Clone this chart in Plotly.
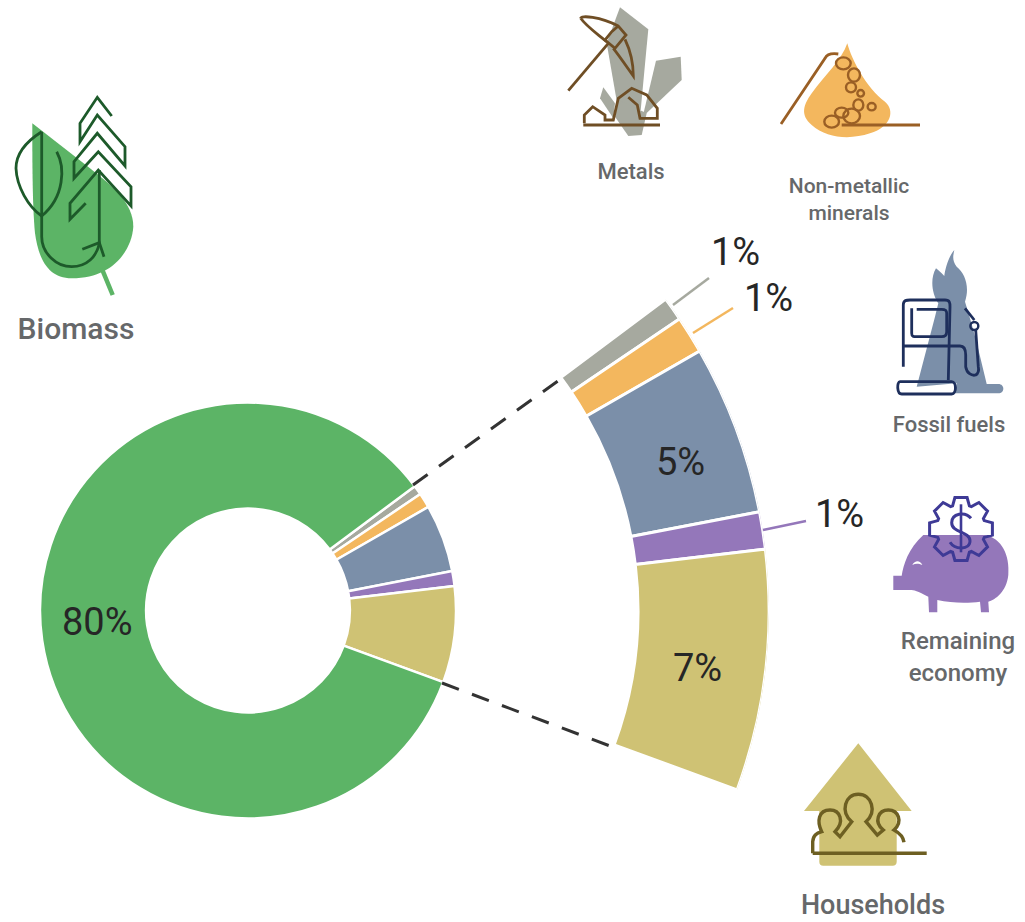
import math
import re
import plotly.graph_objects as go

# ---------- data ----------
categories = ["Metals", "Non-metallic minerals", "Fossil fuels", "Remaining economy", "Households", "Biomass"]
shares = [0.7, 1.1, 5, 1.1, 7.1, 80]
colors = ["#a6a99f", "#f3b75e", "#7b8fa9", "#9477ba", "#cfc274", "#5cb466"]
detail_categories = categories[:5]
detail_shares = shares[:5]
detail_colors = colors[:5]
percent_text = ["80%", "5%", "7%", "1%", "1%", "1%"]
name_text = ["Biomass", "Metals", "Non-metallic<br>minerals", "Fossil fuels", "Remaining<br>economy", "Households"]

# ---------- page geometry (pixels) ----------
W, H = 1025, 922
CX, CY, PIE_R = 248, 610.5, 208
FAN_IN, FAN_OUT = 390, 521
START_ANGLE = 36.7

shapes = []


def zpath(d, ox, oy):
    """Rescale an icon path noted in 3x crop coordinates to page pixels."""
    out, isx = [], True
    for tok in re.findall(r"[A-Za-z]|-?\d+\.?\d*", d):
        if tok.isalpha():
            out.append(tok)
            isx = True
        else:
            v = float(tok) / 3 + (ox if isx else oy)
            out.append(f"{v:.1f}")
            isx = not isx
    return " ".join(out)


def fill(d, ox, oy, color):
    shapes.append(dict(type="path", path=zpath(d, ox, oy), xref="x", yref="y",
                       fillcolor=color, line=dict(width=0)))


def stroke(d, ox, oy, color, width=2.8):
    shapes.append(dict(type="path", path=zpath(d, ox, oy), xref="x", yref="y",
                       line=dict(color=color, width=width)))


def ring(cx, cy, rx, ry, ox, oy, color, width=2.4):
    shapes.append(dict(type="circle", xref="x", yref="y",
                       x0=(cx - rx) / 3 + ox, x1=(cx + rx) / 3 + ox,
                       y0=(cy - ry) / 3 + oy, y1=(cy + ry) / 3 + oy,
                       line=dict(color=color, width=width)))


def seg(x0, y0, x1, y1, color, width=2.5, dash="solid"):
    shapes.append(dict(type="line", xref="x", yref="y", x0=x0, y0=y0, x1=x1, y1=y1,
                       line=dict(color=color, width=width, dash=dash)))


# biomass icon
o = (0, 90)
G, GD = "#5cb466", "#1d5a2a"
fill("M97 100 L270 235 C340 290 400 340 400 410 C395 480 340 565 215 565 C140 565 115 500 105 430 C97 350 97 200 97 100 Z", *o, G)
stroke("M305 535 L338 615", *o, G, 4.5)
stroke("M125 125 C70 160 48 200 48 235 C50 290 85 350 125 378", *o, GD)
stroke("M125 125 L125 440 C125 490 170 530 215 530 C260 530 290 500 298 460", *o, GD)
stroke("M170 185 C195 230 195 320 125 378", *o, GD)
stroke("M247 478 L298 458 L312 500", *o, GD)
stroke("M298 240 L298 460", *o, GD)
stroke("M335 78 L292 22 L240 100 L240 155 L292 75 L375 170 L375 228 L292 130 L222 215 L222 265 L295 185 L393 290 L393 348 L295 240 L210 340 L210 388 L257 340", *o, GD)

# metals icon
o = (550, 0)
M, MD = "#a6a99f", "#6f4e25"
fill("M210 22 L295 88 L272 330 L205 330 L170 130 Z", *o, M)
fill("M318 182 L392 170 L395 240 L278 350 Z", *o, M)
fill("M160 262 L195 310 L190 355 L150 295 Z", *o, M)
fill("M205 300 L290 340 L275 405 L235 408 L195 350 Z", *o, M)
stroke("M55 272 L175 130", *o, MD)
stroke("M92 55 C92 45 150 50 205 78 L228 105 L195 145 L165 120 L185 95 L205 78", *o, MD)
stroke("M92 55 C110 80 140 100 170 125", *o, MD)
stroke("M225 118 C245 160 250 200 250 228 C230 200 210 170 190 145", *o, MD)
stroke("M100 375 L330 375", *o, MD)
stroke("M103 370 L103 345 L128 320 L165 345 L165 360 L190 360 L205 295 L245 265 L290 285 L322 325 L322 355 L270 355 L262 315 L235 292", *o, MD)

# non-metallic minerals icon
o = (770, 30)
N, ND = "#f3b75e", "#9a5f25"
fill("M232 40 C245 90 290 175 345 215 C375 240 365 290 300 310 C240 330 170 325 125 285 C90 255 100 225 125 190 C165 135 215 90 232 40 Z", *o, N)
stroke("M33 282 L165 85 C172 70 190 70 205 72", *o, ND)
stroke("M215 285 L450 285", *o, ND)
for c in [(220, 100, 22, 18), (252, 135, 18, 20), (243, 172, 15, 15), (272, 190, 10, 10), (265, 225, 15, 17),
          (305, 230, 12, 11), (215, 248, 20, 15), (245, 258, 25, 22), (185, 275, 22, 18)]:
    ring(*c, *o, ND)

# fossil fuels icon
o = (885, 240)
F, FD = "#7b8fa9", "#1e2f5c"
fill("M208 30 C190 50 180 90 178 108 C168 98 160 90 153 85 C135 115 140 160 160 190 L150 230 L95 440 L215 430 L210 460 L340 460 C360 460 360 432 340 432 L305 432 C290 370 270 280 240 185 C255 140 240 100 215 80 C200 60 205 45 208 30 Z", *o, F)
stroke("M55 380 L55 195 C55 180 65 180 75 180 L180 180 C195 180 195 190 195 200 L190 420", *o, FD)
stroke("M80 205 L80 280 C80 290 85 290 95 290 L170 290 C180 290 185 285 185 275 L185 220 C185 210 180 208 170 208 L95 208", *o, FD)
stroke("M55 318 L225 318 C240 318 242 330 242 345 L242 380 C245 400 260 408 272 405 C280 400 282 390 280 380 L272 270", *o, FD)
stroke("M45 425 L200 425 C215 425 215 462 200 462 L50 462 C35 462 35 425 45 425 Z", *o, FD)
stroke("M240 205 L268 240", *o, FD)
ring(268, 258, 12, 12, *o, FD)

# remaining economy icon
o = (885, 485)
R, RD = "#9477ba", "#3e3a96"
fill("M115 150 L300 150 C350 160 375 210 370 270 C365 320 330 345 310 350 L312 382 L288 382 L285 350 C250 355 200 355 157 345 L157 382 L132 382 L130 335 C110 325 90 315 80 315 L25 315 L25 272 L50 272 C55 240 70 190 115 150 Z", *o, R)
fill("M82 240 C90 225 105 225 112 240 C100 235 92 235 82 240 Z", *o, "#ffffff")
gear = []
for i in range(8):
    a = math.radians(i * 45 - 90)
    for da, rr in [(-20, 74), (-11, 96), (11, 96), (20, 74)]:
        gear.append((228 + rr * math.cos(a + math.radians(da)), 132 + rr * math.sin(a + math.radians(da))))
stroke("M" + " L".join(f"{x:.1f} {y:.1f}" for x, y in gear) + " Z", *o, RD, 3)
stroke("M258 100 C240 78 200 85 200 113 C200 145 255 138 255 168 C255 195 210 195 195 172", *o, RD, 3)
stroke("M228 58 L228 202", *o, RD, 2.6)

# households icon
o = (790, 735)
K, KD = "#cfc274", "#6d5f22"
fill("M205 25 L365 228 L320 228 L320 380 C320 388 315 392 308 392 L100 392 C92 392 88 388 88 380 L88 228 L42 228 Z", *o, K)
stroke("M68 355 L410 355", *o, KD, 3.6)
stroke("M68 355 L68 320 C70 300 80 295 95 290 C80 260 85 225 120 225 C150 225 165 260 135 290 L150 305 L185 260 C150 230 165 178 205 178 C245 178 262 230 228 260 L262 300 L280 285 C250 260 265 225 295 225 C325 225 340 260 312 285 C330 295 340 305 342 322", *o, KD, 3.4)

# connectors and leader lines
seg(413, 485, 562, 378, "#333333", 3, "18px,14px")
seg(442, 683, 610, 746, "#333333", 3, "18px,14px")
seg(673, 305, 709, 278, colors[0], 2.5)
seg(693, 333, 733, 308, colors[1], 2.5)
seg(763, 530, 806, 521, colors[3], 2.5)

# ---------- figure ----------
fig = go.Figure()

fig.add_trace(go.Pie(
    labels=categories, values=shares, sort=False, direction="clockwise", rotation=90 - START_ANGLE,
    hole=0.49, textinfo="none",
    marker=dict(colors=colors, line=dict(color="#ffffff", width=2.5)),
    domain=dict(x=[(CX - PIE_R) / W, (CX + PIE_R) / W],
                y=[1 - (CY + PIE_R) / H, 1 - (CY - PIE_R) / H]),
    showlegend=False,
))

# fan: the same slices at the same angles, further out
deg_per_unit = 360 / sum(shares)
theta, width, a = [], [], START_ANGLE
for v in detail_shares:
    w = v * deg_per_unit
    theta.append(a - w / 2)
    width.append(w)
    a -= w
END_ANGLE = a
fig.add_trace(go.Barpolar(
    theta=theta, width=width, r=[FAN_OUT - FAN_IN] * 5, base=[FAN_IN] * 5,
    marker=dict(color=detail_colors, line=dict(color="#ffffff", width=3)),
    hovertext=detail_categories, showlegend=False, subplot="polar",
))

s0, s1 = END_ANGLE - 1.5, START_ANGLE + 1.5
fan_top_px = CY - FAN_OUT * math.sin(math.radians(s1))
fan_bot_px = CY - FAN_OUT * math.sin(math.radians(s0))

# category names
fig.add_trace(go.Scatter(
    x=[76, 631, 849, 949, 958, 873], y=[331, 173, 201, 426, 659, 907], text=name_text, mode="text",
    textfont=dict(family="Roboto", size=[30, 22, 21, 22, 24, 27], color="#66686a", weight=500),
    showlegend=False, hoverinfo="skip",
))

# percentages
percent_x = [97, 680, 697, 735, 768, 839]
percent_y = [622, 462, 668, 252, 298, 514]
annotations = [
    dict(x=x, y=y, xref="x", yref="y", text=t, showarrow=False, xanchor="center", yanchor="middle",
         font=dict(family="Roboto", size=38, color="#262626", weight=400))
    for x, y, t in zip(percent_x, percent_y, percent_text)
]

fig.update_layout(
    width=W, height=H, margin=dict(l=0, r=0, t=0, b=0), autosize=False,
    paper_bgcolor="#ffffff", plot_bgcolor="#ffffff", shapes=shapes, annotations=annotations,
    xaxis=dict(range=[0, W], visible=False, domain=[0, 1], fixedrange=True),
    yaxis=dict(range=[H, 0], visible=False, domain=[0, 1], fixedrange=True),
    polar=dict(
        sector=[s0, s1], bgcolor="rgba(0,0,0,0)",
        domain=dict(x=[CX / W, (CX + FAN_OUT) / W],
                    y=[1 - fan_bot_px / H, 1 - fan_top_px / H]),
        radialaxis=dict(visible=False, range=[0, FAN_OUT]),
        angularaxis=dict(visible=False),
    ),
)

fig.write_html("out.html", config=dict(displayModeBar=False),
               post_script="document.body.style.margin='0';document.body.style.overflow='hidden';")
